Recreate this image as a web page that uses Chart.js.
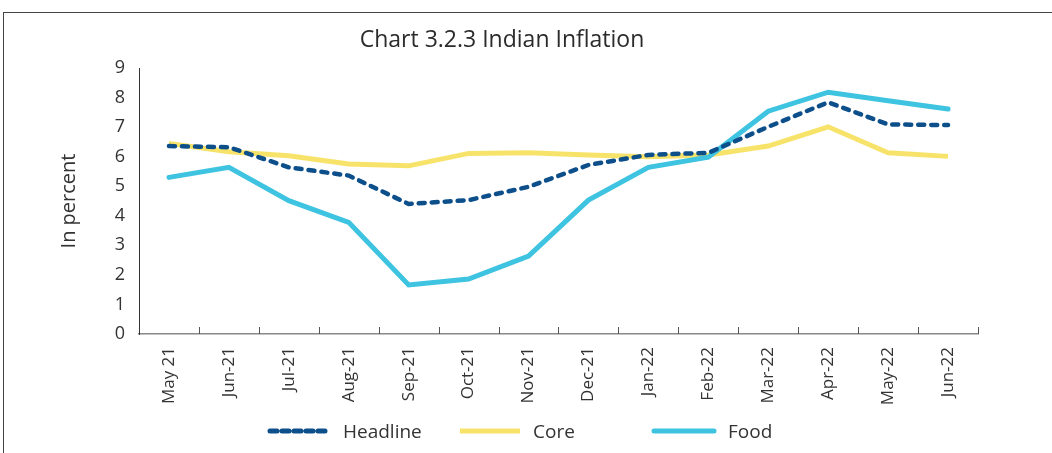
<!DOCTYPE html>
<html>
<head>
<meta charset="utf-8">
<script src="https://cdn.jsdelivr.net/npm/chart.js@4.4.1/dist/chart.umd.min.js"></script>
<style>
  html, body { margin: 0; padding: 0; background: #fff; }
  #wrap { position: relative; width: 1052px; height: 453px; overflow: hidden; }
  #frame { position: absolute; left: 3px; top: 12px; width: 1060px; height: 460px;
           border-top: 1px solid #444; border-left: 1px solid #444; box-sizing: border-box; }
  #title { position: absolute; left: 0; width: 1004px; top: 22px; text-align: center;
           font-family: "Open Sans", sans-serif; font-size: 23px; color: #2b2b2b; }
  #c { position: absolute; left: 0; top: 0; }
  .leg { position: absolute; top: 419px; height: 24px; display: flex; align-items: center;
         font-family: "Open Sans", sans-serif; font-size: 19px; color: #333; }
  .leg svg { margin-right: 11px; }
</style>
</head>
<body>
<div id="wrap">
  <div id="frame"></div>
  <canvas id="c" width="1052" height="453"></canvas>
  <div id="title">Chart 3.2.3 Indian Inflation</div>
  <div class="leg" style="left:266px"><svg width="66" height="8"><line x1="4" y1="4" x2="62" y2="4" stroke="#0d4f8b" stroke-width="5" stroke-dasharray="7 5" stroke-linecap="round"/></svg>Headline</div>
  <div class="leg" style="left:460px"><svg width="62" height="8"><line x1="0" y1="4" x2="60" y2="4" stroke="#f8e36a" stroke-width="5"/></svg>Core</div>
  <div class="leg" style="left:651px"><svg width="66" height="8"><line x1="3" y1="4" x2="63" y2="4" stroke="#3ec3e0" stroke-width="5" stroke-linecap="round"/></svg>Food</div>
</div>
<script>
const categories = ["May 21","Jun-21","Jul-21","Aug-21","Sep-21","Oct-21","Nov-21","Dec-21","Jan-22","Feb-22","Mar-22","Apr-22","May-22","Jun-22"];
const headline = [6.36, 6.32, 5.64, 5.36, 4.40, 4.53, 4.98, 5.72, 6.06, 6.13, 7.01, 7.84, 7.09, 7.07];
const core     = [6.45, 6.17, 6.03, 5.75, 5.69, 6.11, 6.13, 6.06, 6.00, 6.06, 6.36, 7.01, 6.13, 6.01];
const food     = [5.30, 5.64, 4.51, 3.78, 1.66, 1.86, 2.64, 4.53, 5.64, 5.98, 7.54, 8.18, 7.89, 7.61];
const yTicks = [0,1,2,3,4,5,6,7,8,9];

const innerTicks = {
  id: 'innerTicks',
  afterDatasetsDraw(chart) {
    const x = chart.scales.x, ctx = chart.ctx;
    const bottom = chart.chartArea.bottom;
    const n = categories.length;
    const step = x.getPixelForValue(1) - x.getPixelForValue(0);
    ctx.save();
    ctx.strokeStyle = '#555';
    ctx.lineWidth = 1;
    for (let i = 1; i <= n; i++) {
      const px = Math.round(x.getPixelForValue(i - 1) + step / 2) + 0.5;
      ctx.beginPath();
      ctx.moveTo(px, bottom);
      ctx.lineTo(px, bottom - 7);
      ctx.stroke();
    }
    ctx.restore();
  }
};

new Chart(document.getElementById('c'), {
  type: 'line',
  data: {
    labels: categories,
    datasets: [
      { label: 'Headline', data: headline, borderColor: '#0d4f8b', borderWidth: 4.5,
        borderDash: [6, 7], borderCapStyle: 'round', pointRadius: 0, tension: 0, order: 0 },
      { label: 'Core', data: core, borderColor: '#f8e36a', borderWidth: 5,
        pointRadius: 0, tension: 0, order: 2 },
      { label: 'Food', data: food, borderColor: '#3ec3e0', borderWidth: 5,
        borderCapStyle: 'round', pointRadius: 0, tension: 0, order: 1 }
    ]
  },
  options: {
    responsive: false,
    animation: false,
    layout: { padding: { top: 68, left: 0, right: 74, bottom: 0 } },
    plugins: { legend: { display: false }, title: { display: false }, tooltip: { enabled: false } },
    scales: {
      x: {
        offset: true,
        afterFit(s) { s.height = 119; },
        grid: { display: false, offset: true },
        border: { display: true, color: '#888', width: 1.5 },
        ticks: { minRotation: 90, maxRotation: 90, padding: 5, color: '#333',
                  font: { family: 'Open Sans', size: 17 } }
      },
      y: {
        min: 0, max: 9,
        afterFit(s) { s.width = 139; },
        afterBuildTicks(s) { s.ticks = yTicks.map(v => ({ value: v })); },
        grid: { drawOnChartArea: false, drawTicks: false },
        border: { display: true, color: '#333', width: 1 },
        ticks: { padding: 14, color: '#333', font: { family: 'Open Sans', size: 18 } },
        title: { display: true, text: 'In percent', color: '#333',
                 font: { family: 'Open Sans', size: 20 }, padding: { top: 57, bottom: 0 } }
      }
    }
  },
  plugins: [innerTicks]
});
</script>
</body>
</html>
